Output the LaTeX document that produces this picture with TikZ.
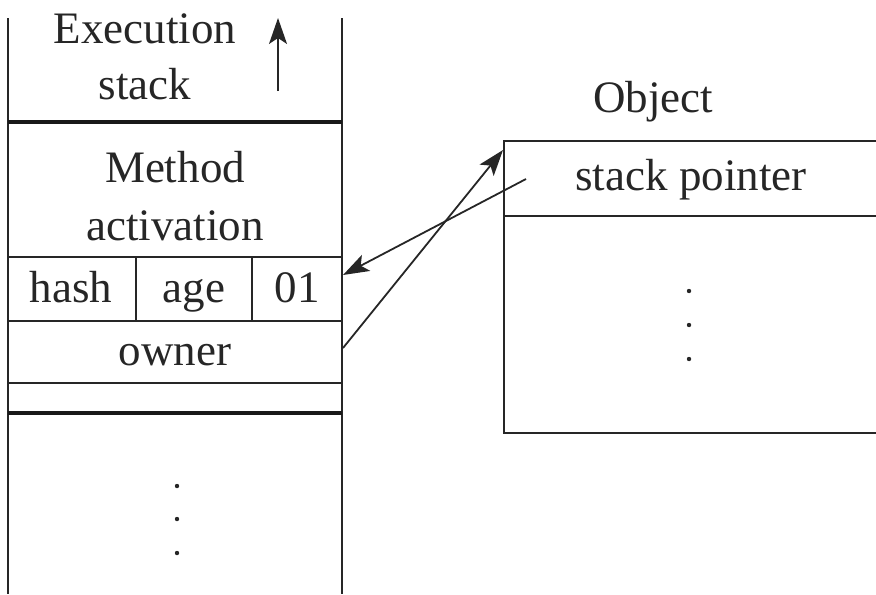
\documentclass[tikz,border=0pt]{standalone}
\usepackage{fontspec}
\setmainfont{Liberation Serif}
\usetikzlibrary{arrows.meta}
\begin{document}
\begin{tikzpicture}[x=0.5pt,y=-0.5pt,
  thin line/.style={line width=0.9pt,draw=black!85},
  thick line/.style={line width=2.3pt,draw=black!90},
  lbl/.style={font=\fontsize{22.5}{27}\selectfont,inner sep=0pt,text=black!85,anchor=base},
  dotmark/.style={circle,fill=black!85,inner sep=0pt,minimum size=2.2pt},
  ptr/.style={line width=0.9pt,draw=black!85,-{Stealth[length=13pt,width=9pt,inset=3pt]}}]
\useasboundingbox (0,0) rectangle (876,594);
% execution stack frame
\draw[thin line] (8,18) -- (8,594);
\draw[thin line] (342,18) -- (342,594);
\draw[thick line] (8,122) -- (342,122);
\draw[thin line] (8,257) -- (342,257);
\draw[thin line] (8,321) -- (342,321);
\draw[thin line] (8,383) -- (342,383);
\draw[thick line] (8,413) -- (342,413);
\draw[thin line] (136,257) -- (136,321);
\draw[thin line] (252,257) -- (252,321);
\node[lbl] (exec) at (145,43) {Execution};
\node[lbl] (stk) at (145,99) {stack};
\coordinate (upA) at (278,91);
\coordinate (upB) at (278,18);
\draw[ptr] (upA) -- (upB);
\node[lbl] (meth) at (175,182) {Method};
\node[lbl] (act) at (175,240) {activation};
\node[lbl] (hash) at (71,302) {hash};
\node[lbl] (age) at (194,302) {age};
\node[lbl] (o1) at (297,302) {01};
\node[lbl] (owner) at (175,365) {owner};
\node[dotmark] (d1) at (177,486) {};
\node[dotmark] (d2) at (177,519) {};
\node[dotmark] (d3) at (177,553) {};
% object
\node[lbl] (objt) at (653,112) {Object};
\draw[thin line] (876,141) -- (504,141) -- (504,433) -- (876,433);
\draw[thin line] (504,216) -- (876,216);
\node[lbl] (sp) at (691,190) {stack pointer};
\node[dotmark] (e1) at (689,291) {};
\node[dotmark] (e2) at (689,325) {};
\node[dotmark] (e3) at (689,359) {};
% pointers
\coordinate (spStart) at (526,179);
\coordinate (hdrEnd) at (343,275);
\coordinate (ownStart) at (343,348);
\coordinate (objEnd) at (503,150);
\draw[ptr] (spStart) -- (hdrEnd);
\draw[ptr] (ownStart) -- (objEnd);
\end{tikzpicture}
\end{document}
